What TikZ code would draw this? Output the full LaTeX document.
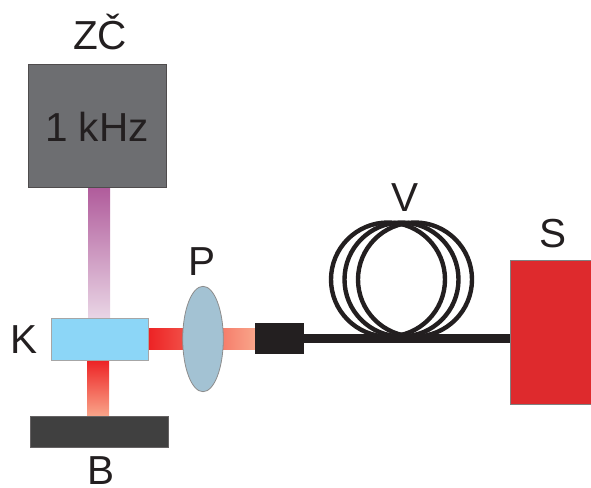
\documentclass[tikz,border=0pt]{standalone}
\usepackage{fontspec}
\usetikzlibrary{shapes.geometric}
\setmainfont{Liberation Sans}
\definecolor{ink}{HTML}{231F20}
\definecolor{gen}{HTML}{6D6E71}
\definecolor{crystal}{HTML}{8CD6F7}
\definecolor{lensc}{HTML}{A3C2D3}
\definecolor{beamred}{HTML}{ED2224}
\definecolor{beamsalmon}{HTML}{F9A58A}
\definecolor{beampurple}{HTML}{B05B9B}
\definecolor{beampale}{HTML}{E9D5E5}
\definecolor{mirror}{HTML}{404040}
\definecolor{spec}{HTML}{DE2A2D}
\tikzset{
  box/.style={rectangle,anchor=north west,inner sep=0pt,outer sep=0pt,line width=0.8pt},
  label text/.style={anchor=base,inner sep=0pt,text=ink,font=\fontsize{40.5}{44}\selectfont},
  coil/.style={draw=ink,line width=4.4pt,fill=none},
  fiber/.style={draw=ink,line width=8.4pt}
}
\begin{document}
\begin{tikzpicture}[x=1pt,y=-1pt]
\useasboundingbox (0,0) rectangle (591,487);
% beams
\node[box,minimum width=21.7pt,minimum height=131pt,top color=beampurple,bottom color=beampale] (bp) at (88.3,187) {};
\node[box,minimum width=21.7pt,minimum height=56pt,top color=beamred,bottom color=beamsalmon] (bd) at (87.3,360) {};
\node[box,minimum width=107pt,minimum height=21pt,left color=beamred,right color=beamsalmon] (br) at (148,328) {};
% blocks
\node[box,draw=ink!80,fill=gen,minimum width=137.5pt,minimum height=123pt] (zc) at (28.5,64.5) {};
\node[box,draw=black!35,fill=crystal,minimum width=97pt,minimum height=42pt] (k) at (51,318) {};
\node[box,draw=ink!70,fill=mirror,minimum width=138pt,minimum height=31pt] (b) at (30,416) {};
\node[box,draw=black!50,fill=spec,minimum width=81pt,minimum height=144pt] (s) at (510,260) {};
\node[ellipse,draw=black!45,line width=0.8pt,fill=lensc,minimum width=40.6pt,minimum height=105.4pt,inner sep=0pt,outer sep=0pt] (p) at (203,339) {};
\node[box,fill=ink,minimum width=49.5pt,minimum height=30.7pt] (c) at (254.5,323.3) {};
% fibre coils
\node[circle,coil,minimum size=114pt,inner sep=0pt] (v1) at (388,279.5) {};
\node[circle,coil,minimum size=114pt,inner sep=0pt] (v2) at (401.5,279.5) {};
\node[circle,coil,minimum size=114pt,inner sep=0pt] (v3) at (415,279.5) {};
\draw[fiber] (c.east) -- (c.east -| s.west);
% labels
\node[label text] (tzc) at (100,50) {ZČ};
\node[label text] (tf) at (97,141) {1 kHz};
\node[label text] (tk) at (24.5,353) {K};
\node[label text] (tp) at (202,275) {P};
\node[label text] (tb) at (101,484.5) {B};
\node[label text] (tv) at (405,211) {V};
\node[label text] (ts) at (553,247) {S};
\end{tikzpicture}
\end{document}
